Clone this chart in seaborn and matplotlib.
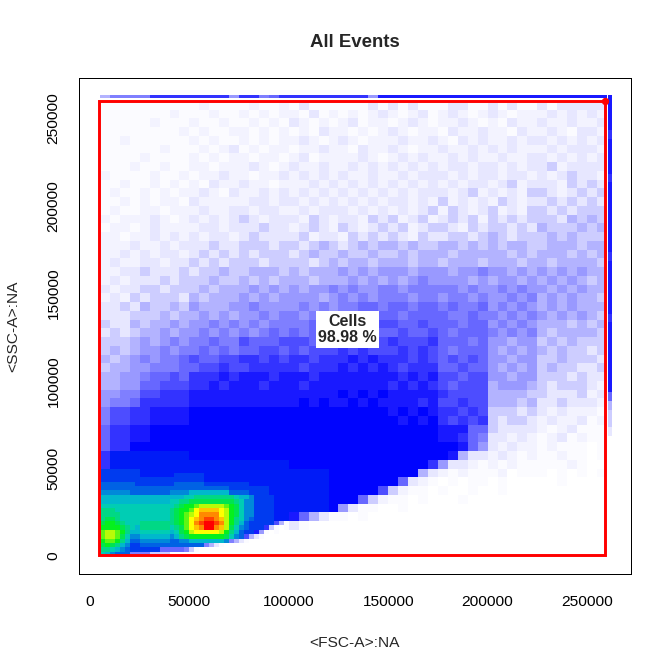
import numpy as np
import pandas as pd
import seaborn as sns
import matplotlib.pyplot as plt
from matplotlib.colors import LinearSegmentedColormap
from matplotlib.patches import Rectangle

# Event density of FSC-A (x) vs SSC-A (y) on a 5000 x 5000 grid.
# Rows run from the top (SSC 255000-260000) down to 0-5000, 52 columns FSC 0-260000.
# ' ' empty, ',' '.' '1'..'9' '#' -> share of the cell covered by blue events,
# 'a'..'p' -> dense cells, coloured by density (blue > turquoise > green > yellow > red)
# (the corner FSC < 100000, SSC < 50000 is read finer, in core_rows below)
density_rows = [
    " ,,,,,,,,," ",.,,," ",.,,." ",1,,," ",,,1," "1,1,," ",11,," "1,1,," "1,111" "11",
    " ,,,,,,,.," ",,.,," ".,.,." ".,1,." ",.,.1" ".,.1," ".1.,." "1.,.." ".1.1." "1.",
    " ,,,,,.,,," ".,,.," ",.,.," "1.,.," ".1,.." ",.1.," "..1.," ".,1.." "1..1." ".1",
    " ,,,,,,,,." ",.,,." ".,.,." ",.,1." ".,.,." "1.,.." ",1..1" "..,1." ".1.,1" "1.",
    " ,,.,,,,,," ".,.,," ".,.,." ".1.,." "1.,.." ".1..1" ".,1.1" "..1.1" "1.1.1" ".1",
    " ,,,,,,.,," ",.,.1" ",.,.." ",..1." ".,1.." "1.,.." "1..1." "1.1.." ".1.11" "1.",
    " ,,,,.,,,," ".,.,." ".,..," ".1,.." "..1.," ".1.1." ".1.1." ".1..1" "1.1.1" ".1",
    " ,,,.,,.,," "..,.." ".1.,." "1..1." ".1.1." "1.1.1" ".11.1" "1.1.1" "12.11" "11",
    " .,,,,.,,." ",..1." ".,..1" ".1.1." "1..1." ".1.11" "1.1.1" "1.11." "1.121" "1.",
    " ,,.,,.,.," ".,1.." "1..,." "..1.1" ".1.1." "1.1.1" ".1.11" ".12.1" "11.21" "21",
    " ,.,,.,.,." ".1.,1" "..1.1" ".1.1." "1.1.1" ".1.11" "1.12." "1.1.2" "21.12" "12",
    " ,,.,.,..," "1...." ".11.1" "1.1.1" ".1.1." "11.1." "2.1.1" ".21.1" "12121" "21",
    " ,.,,..,.." ".1..1" "1.11." ".1.11" "1.1.1" ".1.12" ".21.1" "2.1.2" "21212" "22",
    " .,...1.,." "1.1.1" "21.11" "1.21." "11.21" "2.12." "1212." "21212" "22132" "32",
    " ,..,.1..." ".11.1" "11211" ".121." "21.12" "12.12" "21.21" "22121" "32223" "23",
    " ..,..1.1." "1.11." "12111" "12.11" ".2121" "21.21" "12212" "32122" "23232" "22",
    " ...1..1.1" "11211" "22212" "21232" "12323" "32322" "33232" "32332" "23332" "33",
    " ..1.1.11." "12121" "21222" "12322" "32232" "23233" "32333" "33232" "33323" "23",
    " .1..11.11" "21212" "22122" "22123" "23323" "33233" "23332" "33323" "32333" "32",
    " ..1121112" "12232" "23332" "32333" "43434" "44344" "43445" "44343" "43434" "33",
    " .1.111212" "22322" "32323" "33233" "34343" "43454" "44434" "34434" "34343" "23",
    " 1.1122122" "23233" "34343" "43445" "45445" "54555" "55454" "45454" "43434" "33",
    " .1.212221" "32333" "43434" "44434" "54545" "55455" "45545" "44545" "34343" "32",
    " 112132232" "43334" "45444" "45454" "55665" "66566" "56556" "45454" "34343" "33",
    " 111222323" "34343" "44545" "54545" "65656" "65666" "65565" "54545" "43434" "32",
    " 211323343" "44545" "45455" "55656" "66767" "76676" "66566" "45454" "33323" "23",
    " 121233434" "45454" "54565" "65656" "76676" "67667" "65666" "54545" "32333" "32",
    " 222343454" "55655" "76667" "77677" "78787" "87778" "66656" "44344" "23232" "22",
    " 232344545" "56565" "66776" "76777" "87877" "78787" "65666" "43434" "32322" "12",
    " 323454556" "76677" "88787" "88788" "89898" "88787" "67676" "44344" "22322" "21",
    " 233445556" "67787" "78888" "87888" "98989" "87888" "66766" "43434" "23221" "12",
    " 334456676" "88898" "99989" "99899" "99999" "98989" "77677" "44344" "22212" "11",
    " 334466777" "88989" "99899" "98999" "99999" "89898" "76777" "34443" "21222" "1.",
    " 445577888" "99999" "99999" "99999" "#9#9#" "99999" "87777" "33332" "21112" ".1",
    " 455688888" "99999" "99999" "9#9#9" "9#9#9" "99989" "77877" "33323" "11211" "1.",
    " 577889999" "#####" "#####" "#####" "#####" "9#9#9" "88787" "22212" "1.1.." ".,",
    " 577889999" "#####" "#####" "#####" "#####" "#9#9#" "87878" "21221" ".1..1" ",.",
    " 68899####" "#####" "#####" "#####" "#####" "#####" "99966" "21111" ".,.1," ",,",
    " 68899####" "#####" "#####" "#####" "#####" "#####" "99865" "11.1." ",.1,." ",,",
    " 688######" "#####" "#####" "#####" "#####" "#####" "##964" "1.1.." ",.,,," " ,",
    " 8aaaaaaaa" "#####" "#####" "#####" "#####" "#####" "#9311" ".1.,." ",,.,," " ,",
    " 8aaaaaaaa" "aaaaa" "aaaaa" "#####" "#####" "####8" "411.," ".,.,," ",,,.," "  ",
    "          " "     " "     " "aaaa#" "#####" "###31" ".,.,," ",. ,," ", , ," " ,",
    "          " "     " "     " "aaaa#" "#####" "#61.," " , ,," " ,   " "  ,  " "  ",
    "          " "     " "     " "aaaa#" "####7" "2.,, " ",  , " " ,   " "     " "  ",
    "          " "     " "     " "aaaa#" "##62." ",, , " "  ,  " "     " "     " "  ",
    "          " "     " "     " "aaaa#" "41,, " " ,   ",
    "          " "     " "     " "9631," ", ,  ",
    "          " "     " "     " "1,   ",
    "",
    "",
    "",
]

# the dense corner FSC 0-100000, SSC 0-50000 on a 2500 x 2500 grid (top row first)
core_rows = [
    "  bbbbbbbb" "aaaaaaaaaa" "aaaaaaaaaa" "aaaaaaaaaa",
    "  bbbbbbbb" "aaaaaaabbb" "bbbaaaaaaa" "aaaaaaaaaa",
    "  bbbbbbbb" "bbbbbbbbbb" "bbbaaaaaaa" "aaaaaaaaaa",
    "  cccccccb" "bbbbbbbccc" "cccbbbbbbb" "bbaaaaaaaa",
    "  cccccccc" "cccccccccc" "ccccccccbb" "bbbbbbaaaa",
    "  ddddddcc" "ccccccdddd" "eeeeeeeecc" "ccbbbbaaaa",
    "  eeeeeeee" "eeeeeeeeef" "fggggggggf" "eedbbbbaaa",
    "  eeeeeeee" "eeeeeeffgg" "hhhhhhhhhg" "fddbbbbaaa",
    "  ffffffff" "fffffffghi" "ijkkkkkjih" "fddbbbbaaa",
    "  gggfffff" "ffffffghii" "jlmmmmlkih" "fddbbbbaaa",
    "  ggggffff" "ffffffghij" "klnnnnlkih" "fddbbbbaaa",
    "  ghhgffff" "ffffffghij" "lmnoonmkig" "fdcbbbbaaa",
    "  hiihgfff" "ggggggghij" "lnopponkig" "ecbbbbb73,",
    "  iiiihgfe" "ggggggfghj" "lmnppnmkhf" "dcbbb82, ,",
    "  jkkjigee" "ffffffefhi" "klllllkige" "cbb94, ,  ",
    "  jkkjhfdd" "eeeeeedegh" "iiiiiiihfd" "c731,     ",
    "  ijjigecc" "ddddddccdd" "eeeeeeed53" "1,        ",
    "  hihgedbb" "cccccccccc" "ccc531,   ",
    "  ggfedcbb" "bbbb666665" "2,        ",
    "  fedccc55" "552222    ",
]

# saturated events piled at SSC = max (above the gate) and FSC = max (right edge)
top_strip = " 3" "5555" "88888888" "4" "88" "5" "6" "888888888" "4" "999999999999" "99999999999"
right_strip = "9" "99989999899" "99999989999" "99899999999" "63221" "              "

cover_levels = {" ": 0.0, ",": 0.02, ".": 0.05, "1": 0.1, "2": 0.2, "3": 0.3, "4": 0.4,
                "5": 0.5, "6": 0.6, "7": 0.7, "8": 0.8, "9": 0.9, "#": 1.0}
density_levels = {"a": 0.03, "b": 0.06, "c": 0.10, "d": 0.14, "e": 0.18, "f": 0.22,
                  "g": 0.28, "h": 0.34, "i": 0.40, "j": 0.47, "k": 0.54, "l": 0.60,
                  "m": 0.70, "n": 0.80, "o": 0.90, "p": 1.0}

x_ticks = [0, 50000, 100000, 150000, 200000, 250000]
y_ticks = [0, 50000, 100000, 150000, 200000, 250000]
gate = (4500, 750, 259000, 260000)  # Cells gate: xmin, ymin, xmax, ymax
gate_label = "Cells\n98.98 %"


def level(ch):
    # coverage -> 0..1 (white to blue), density -> 1..2 (blue to red)
    if ch in cover_levels:
        return cover_levels[ch]
    return 1.0 + density_levels[ch]


def grid_frame(rows, n_cols, step):
    recs = []
    n_rows = len(rows)
    for r, row in enumerate(rows):
        row = row.ljust(n_cols)[:n_cols]
        j = n_rows - 1 - r
        for i, ch in enumerate(row):
            recs.append((step * i + step / 2, step * j + step / 2, level(ch)))
    df = pd.DataFrame(recs, columns=["fsc", "ssc", "v"])
    return df[df.v > 0]


grid = grid_frame(density_rows, 52, 5000)
core = grid_frame(core_rows, 40, 2500)

top = pd.DataFrame({"fsc": [5000 * i + 2500 for i in range(len(top_strip))],
                    "ssc": 262700, "v": [level(c) for c in top_strip]})
top = top[top.v > 0]
right = pd.DataFrame({"fsc": 261560,
                      "ssc": [5000 * (52 - k) + 1000 for k in range(len(right_strip))],
                      "v": [level(c) for c in right_strip]})
right = right[right.v > 0]

sns.set_style("white")
plt.rcParams["font.family"] = ["Liberation Sans", "DejaVu Sans"]

flow_cmap = LinearSegmentedColormap.from_list(
    "flow", [(0.0, "#FFFFFF"), (0.5, "#0000FF"), (0.6, "#00C8C8"), (0.7, "#00F01E"),
             (0.8, "#FFFF00"), (0.9, "#FF8C00"), (1.0, "#FF0000")])
hist_kw = dict(x="fsc", y="ssc", weights="v", cmap=flow_cmap, vmin=0, vmax=2)

fig = plt.figure(figsize=(7, 7), dpi=96)
ax = fig.add_axes([79 / 672, 97.7 / 672, 552 / 672, 496 / 672])

sns.histplot(data=grid, binwidth=5000, binrange=((0, 260000), (0, 260000)), ax=ax, **hist_kw)
sns.histplot(data=core, binwidth=2500, binrange=((0, 100000), (0, 50000)), ax=ax, **hist_kw)
sns.histplot(data=top, binwidth=(5000, 1600), binrange=((0, 260000), (261900, 263500)),
             ax=ax, **hist_kw)
sns.histplot(data=right, binwidth=(2000, 5000), binrange=((260560, 262560), (-1500, 263500)),
             ax=ax, **hist_kw)

# gate
ax.add_patch(Rectangle((gate[0], gate[1]), gate[2] - gate[0], gate[3] - gate[1],
                       fill=False, edgecolor="red", lw=2.2, zorder=5))
ax.plot(gate[2], gate[3], "o", color="red", ms=4.5, zorder=6)
ax.text(129500, 129400, gate_label, ha="center", va="center", fontsize=12,
        fontweight="bold", linespacing=1.15, zorder=7,
        bbox=dict(boxstyle="square,pad=0.15", facecolor="white", edgecolor="none"))

ax.set_xlim(-5533, 272133)
ax.set_ylim(-10457, 272971)
ax.set_xticks(x_ticks)
ax.set_xticklabels([str(t) for t in x_ticks])
ax.set_yticks(y_ticks)
ax.set_yticklabels([str(t) for t in y_ticks])
ax.tick_params(direction="out", length=6.3, width=0.75, labelsize=11.6, colors="black")
ax.tick_params(axis="x", pad=9.5)
ax.tick_params(axis="y", pad=7.5, labelrotation=90)
for t in ax.get_yticklabels():
    t.set_va("center")
for s in ax.spines.values():
    s.set_color("black")
    s.set_linewidth(0.75)

ax.set_xlabel("<FSC-A>:NA", fontsize=11.6)
ax.set_ylabel("<SSC-A>:NA", fontsize=11.6)
ax.xaxis.set_label_coords(0.5, -0.1385)
ax.xaxis.label.set_va("center")
ax.yaxis.set_label_coords(-0.1196, 0.5)
ax.yaxis.label.set_va("center")
ax.yaxis.label.set_ha("center")
ax.set_title("All Events", fontsize=14, fontweight="bold", y=1.0637, pad=0, va="baseline")

fig.savefig("out.png", dpi=96)
